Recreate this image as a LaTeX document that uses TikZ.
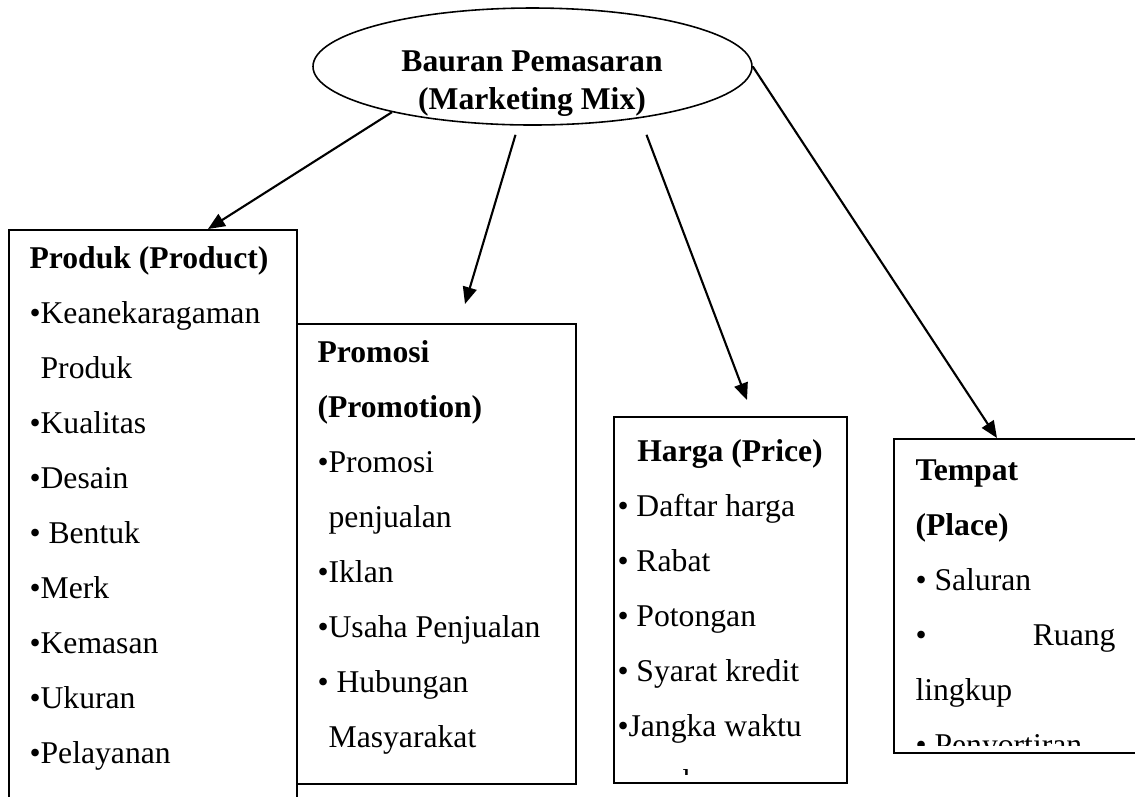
\documentclass[tikz,border=0pt]{standalone}
\usepackage{fontspec}
\setmainfont{Liberation Serif}
\usetikzlibrary{arrows.meta}
\usetikzlibrary{shapes.geometric}
\tikzset{>={Triangle[length=6.4pt,width=5.3pt]}}
\newdimen\pxu \pxu=0.379pt
\tikzstyle{hub}=[ellipse,draw,line width=0.6pt,minimum width=439\pxu,minimum height=117\pxu,inner sep=0pt]
\tikzstyle{hub text}=[anchor=base,inner sep=0pt,text width=300\pxu,align=flush center,font=\bfseries\fontsize{12}{14.4}\selectfont]
\tikzstyle{panel}=[draw,line width=0.8pt,anchor=north west,inner sep=0pt]
\tikzstyle{items}=[anchor=base west,inner sep=0pt,align=flush left,font=\fontsize{12}{20.85}\selectfont]
\tikzstyle{link}=[->,line width=0.8pt]

\begin{document}
\begin{tikzpicture}[x=0.379pt,y=-0.379pt]
  \clip (0,0) rectangle (1135,796);
  \node[hub] (mix) at (532.5,66.5) {};
  \node[hub text] (mixtext) at (532,71) {Bauran Pemasaran\\(Marketing Mix)};

  \node[panel,minimum width=288\pxu,minimum height=620\pxu] (prod) at (8,229) {};
  \node[panel,minimum width=279\pxu,minimum height=460\pxu] (promo) at (296,323) {};
  \node[panel,minimum width=233\pxu,minimum height=366\pxu] (harga) at (613,416) {};
  \node[panel,minimum width=300\pxu,minimum height=314\pxu] (place) at (893,438) {};

  \node[items,text width=262\pxu] (prodlist) at ([shift={(21,39)}]prod.north west)
    {\textbf{Produk (Product)}\\•Keanekaragaman\\\phantom{•}Produk\\•Kualitas\\•Desain\\• Bentuk\\•Merk\\•Kemasan\\•Ukuran\\•Pelayanan};
  \node[items,text width=245\pxu] (promolist) at ([shift={(21,39)}]promo.north west)
    {\textbf{Promosi}\\\textbf{(Promotion)}\\•Promosi\\\phantom{•}penjualan\\•Iklan\\•Usaha Penjualan\\• Hubungan\\\phantom{•}Masyarakat};
  \begin{scope}
    \clip (harga.north west) rectangle ([shift={(0,-10)}]harga.south east);
    \node[items,text width=225\pxu] (hargalist) at ([shift={(4,45)}]harga.north west)
      {\makebox[\hsize]{\textbf{Harga (Price)}}\\• Daftar harga\\• Rabat\\• Potongan\\• Syarat kredit\\•Jangka waktu\\\phantom{•}pembayaran};
  \end{scope}
  \begin{scope}
    \clip (place.north west) rectangle ([shift={(0,-9)}]place.south east);
    \node[items,text width=200\pxu] (placelist) at ([shift={(22,42)}]place.north west)
      {\textbf{Tempat}\\\textbf{(Place)}\\• Saluran\\•\hfill Ruang\\lingkup\\• Penyortiran};
  \end{scope}

  \draw[link] (mix.198) -- ([shift={(200,0)}]prod.north west);
  \draw[link] ([shift={(-17,9)}]mix.south) -- ([shift={(169,-19)}]promo.north west);
  \draw[link] ([shift={(114,9)}]mix.south) -- ([shift={(134,-16)}]harga.north west);
  \draw[link] (mix.east) -- ([shift={(104,0)}]place.north west);
\end{tikzpicture}
\end{document}
